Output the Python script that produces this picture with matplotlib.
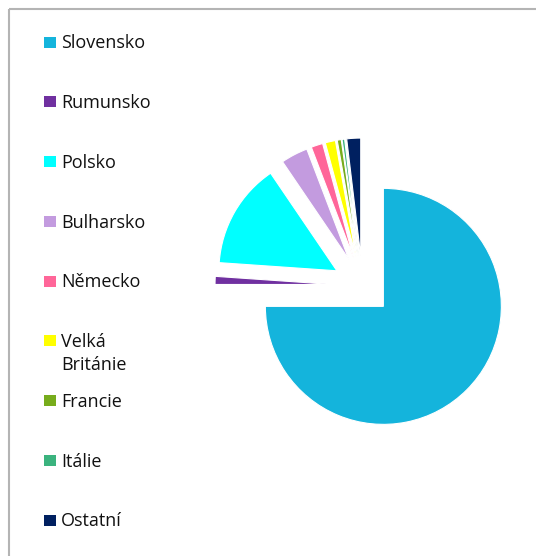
import textwrap
import matplotlib
matplotlib.use("Agg")
import matplotlib.pyplot as plt
from matplotlib.patches import Rectangle
from matplotlib.lines import Line2D

# share of workers by country (%)
countries = ["Slovensko", "Rumunsko", "Polsko", "Bulharsko", "Německo",
             "Velká Británie", "Francie", "Itálie", "Ostatní"]
shares = [75.0, 1.1, 14.4, 3.7, 1.6, 1.4, 0.55, 0.35, 1.9]
colors = ["#14B4DC", "#7030A0", "#00FFFF", "#C39BDF", "#FF6699",
          "#FFFF00", "#77AC1C", "#3BB37E", "#002060"]

W, H = 536, 556
fig = plt.figure(figsize=(W / 100, H / 100), dpi=100)

def fx(px):
    return px / W

def fy(py):
    return 1 - py / H

# pie: centre at (362.5, 285.5) px, radius 118 px
cx, cy, r = 362.5, 285.5, 118.0
half = 160.0
ax = fig.add_axes([fx(cx - half), (H - cy - half) / H, 2 * half / W, 2 * half / H])
ax.pie(shares, colors=colors, startangle=90, counterclock=False,
       explode=[0.25] * len(shares), radius=1.0,
       wedgeprops=dict(edgecolor="white", linewidth=0.8))
lim = half / r
ax.set_xlim(-lim, lim)
ax.set_ylim(-lim, lim)
ax.set_aspect("equal")
ax.axis("off")

# chart frame (only top and left edges visible)
fig.add_artist(Line2D([fx(8.5), 1.0], [fy(8.5), fy(8.5)], transform=fig.transFigure,
                      color="#B4B4B4", linewidth=1.5, solid_capstyle="butt"))
fig.add_artist(Line2D([fx(8.5), fx(8.5)], [fy(8.5), 0.0], transform=fig.transFigure,
                      color="#B4B4B4", linewidth=1.5, solid_capstyle="butt"))

# legend (long names wrap onto a second line)
row0, step, line_h = 42.0, 59.75, 23.4
for i, (name, col) in enumerate(zip(countries, colors)):
    yc = row0 + i * step
    fig.add_artist(Rectangle((fx(44), fy(yc + 5.5)), fx(11.5), 11 / H,
                             transform=fig.transFigure, facecolor=col, edgecolor="none"))
    for j, part in enumerate(textwrap.wrap(name, 10)):
        fig.text(fx(61), fy(yc + 6.3 + j * line_h), part, family="Open Sans",
                 fontsize=13, color="#111111", va="baseline", ha="left")

fig.savefig("out.png", dpi=100)
